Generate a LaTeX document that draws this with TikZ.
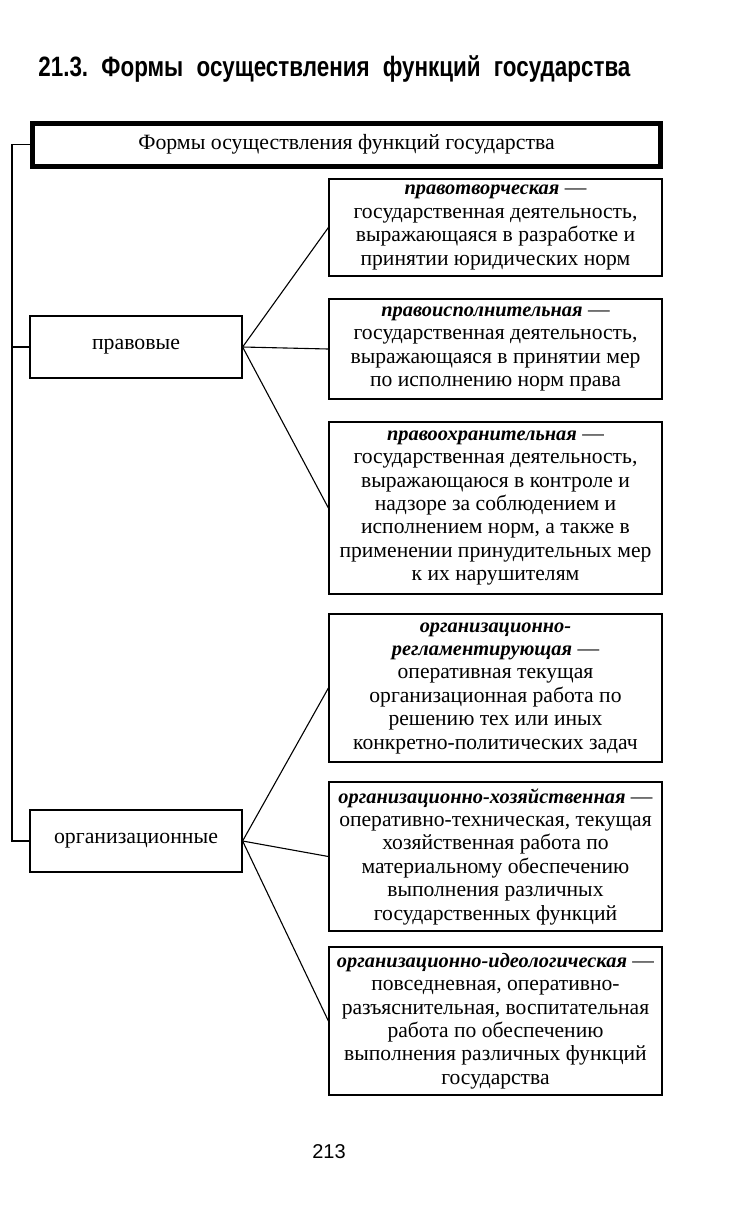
\documentclass[tikz,border=0pt]{standalone}
\usepackage{fontspec}
\setmainfont{Liberation Serif}
\setsansfont{Liberation Sans}
\newfontfamily\titlefont[FakeStretch=0.80]{Liberation Sans Bold}
\begin{document}
\begin{tikzpicture}[x=0.5pt,y=-0.5pt,
  desc/.style={draw, line width=0.6pt, minimum width=166.5pt, inner sep=0pt, align=center,
    font=\fontsize{10.8}{11.7}\selectfont},
  kind/.style={draw, line width=0.6pt, minimum width=106pt, minimum height=31pt, inner sep=0pt,
    font=\fontsize{10.9}{12}\selectfont},
  mainbox/.style={draw, line width=2.5pt, minimum width=314pt, minimum height=21.5pt, inner sep=0pt,
    font=\fontsize{10.9}{12}\selectfont},
  link/.style={line width=0.55pt}]
\fill[white] (0,0) rectangle (745,1206);
\useasboundingbox (0,0) rectangle (745,1206);
\newcommand{\hdr}[1]{{\fontsize{10.2}{11.7}\selectfont\textbf{\textit{#1}}}}

\node[anchor=base west, inner sep=0pt, font=\titlefont\fontsize{14}{16}\selectfont] (title) at (38,76)
  {\frenchspacing\makebox[296pt][s]{21.3. Формы осуществления функций государства}};

\node[mainbox] (main) at (346.5,144.5) {Формы осуществления функций государства};

\node[kind] (prav) at (136,347) {правовые};
\node[kind] (org) at (136,841) {организационные};

\node[desc, minimum height=48.5pt] (b1) at (495.5,227.5)
  {\hdr{правотворческая} —\\государственная деятельность,\\выражающаяся в разработке и\\принятии юридических норм};
\node[desc, minimum height=50pt] (b2) at (495.5,349)
  {\hdr{правоисполнительная} —\\государственная деятельность,\\выражающаяся в принятии мер\\по исполнению норм права};
\node[desc, minimum height=86pt] (b3) at (495.5,508)
  {\hdr{правоохранительная} —\\государственная деятельность,\\выражающаюся в контроле и\\надзоре за соблюдением и\\исполнением норм, а также в\\применении принудительных мер\\к их нарушителям};
\node[desc, minimum height=74pt] (b4) at (495.5,688)
  {\hdr{организационно-}\\\hdr{регламентирующая} —\\оперативная текущая\\организационная работа по\\решению тех или иных\\конкретно-политических задач};
\node[desc, minimum height=74.5pt] (b5) at (495.5,856.5)
  {\hdr{организационно-хозяйственная} —\\оперативно-техническая, текущая\\хозяйственная работа по\\материальному обеспечению\\выполнения различных\\государственных функций};
\node[desc, minimum height=74pt] (b6) at (495.5,1021)
  {\hdr{организационно-идеологическая} —\\повседневная, оперативно-\\разъяснительная, воспитательная\\работа по обеспечению\\выполнения различных функций\\государства};

\coordinate (bus) at (12,0);
\draw[link] (main.west) -- (main.west -| bus) -- (org.west -| bus) -- (org.west);
\draw[link] (prav.west) -- (prav.west -| bus);

\foreach \b in {b1,b2,b3} \draw[link] (prav.east) -- (\b.west);
\foreach \b in {b4,b5,b6} \draw[link] (org.east) -- (\b.west);

\node[font=\sffamily\fontsize{10}{12}\selectfont, inner sep=0pt] (page) at (329,1152) {213};
\end{tikzpicture}
\end{document}
